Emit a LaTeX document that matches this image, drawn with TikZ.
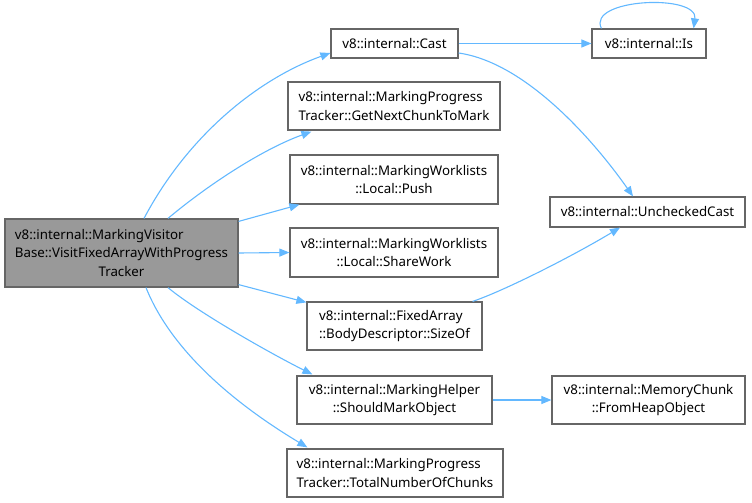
\documentclass[tikz,border=0pt]{standalone}
\usepackage{fontspec}
\setmainfont{Noto Sans}
\usetikzlibrary{arrows.meta,calc}
\definecolor{edgeblue}{RGB}{99,184,255}
\definecolor{boxgray}{RGB}{102,102,102}
\definecolor{maingray}{RGB}{153,153,153}
\begin{document}
\begin{tikzpicture}[x=1pt,y=-1pt,
  box/.style={draw=boxgray,line width=1.2pt,fill=white,inner sep=0pt,
    font=\fontsize{13.3}{18.7}\selectfont,align=center,text=black},
  lbox/.style={box,align=left},
  edge/.style={draw=edgeblue,line width=1.1pt,-{Triangle[length=10pt,width=8pt]}}]
\useasboundingbox (0,0) rectangle (752,503);

\node[box,fill=maingray,minimum width=233pt,minimum height=68pt] (main) at (121.5,253)
  {\rlap{v8::internal::MarkingVisitor}\hphantom{Base::VisitFixedArrayWithProgress}\\Base::VisitFixedArrayWithProgress\\Tracker};
\node[box,minimum width=127pt,minimum height=29pt] (cast) at (394.5,43.5) {v8::internal::Cast};
\node[box,minimum width=114pt,minimum height=29pt] (is) at (649,43.5) {v8::internal::Is};
\node[lbox,minimum width=212pt,minimum height=48pt] (next) at (394,106) {v8::internal::MarkingProgress\\Tracker::GetNextChunkToMark};
\node[box,minimum width=208pt,minimum height=49pt] (push) at (394,179.5) {v8::internal::MarkingWorklists\\::Local::Push};
\node[box,minimum width=208pt,minimum height=49pt] (share) at (394,252.5) {v8::internal::MarkingWorklists\\::Local::ShareWork};
\node[lbox,minimum width=175pt,minimum height=48pt] (sizeof) at (394.5,326) {v8::internal::FixedArray\\::BodyDescriptor::SizeOf};
\node[box,minimum width=195pt,minimum height=30pt] (unchecked) at (647.5,212) {v8::internal::UncheckedCast};
\node[box,minimum width=195pt,minimum height=48pt] (should) at (394.5,400) {v8::internal::MarkingHelper\\::ShouldMarkObject};
\node[box,minimum width=193pt,minimum height=48pt] (fromheap) at (648.5,400) {v8::internal::MemoryChunk\\::FromHeapObject};
\node[lbox,minimum width=216pt,minimum height=48pt] (total) at (395,473) {v8::internal::MarkingProgress\\Tracker::TotalNumberOfChunks};

% edges from main
\draw[edge] ($(main.north)+(22.5,0)$) .. controls +(45,-85) and +(-70,25) .. ($(cast.west)+(0,9.5)$);
\draw[edge] ($(main.north)+(46.5,0)$) .. controls +(38,-32) and +(-50,18) .. ($(next.south west)+(24,1)$);
\draw[edge] ($(main.north east)+(0,3)$) -- ($(push.south west)+(10,0)$);
\draw[edge] (main.east) -- (share.west);
\draw[edge] ($(main.south east)+(0,-3)$) -- ($(sizeof.north west)+(0,1)$);
\draw[edge] ($(main.south)+(46.5,0)$) .. controls +(30,25) and +(-40,-20) .. ($(should.north west)+(16,-1)$);
\draw[edge] ($(main.south)+(24.5,0)$) .. controls +(30,75) and +(-50,-30) .. ($(total.north west)+(21,-1)$);
% other edges
\draw[edge] (cast.east) -- (is.west);
\draw[edge] ($(cast.east)+(0,9.5)$) .. controls +(70,10) and +(-35,-50) .. ($(unchecked.north)+(-14.5,0)$);
\draw[edge] ($(sizeof.north east)+(-10,0)$) .. controls +(30,-10) and +(-50,30) .. ($(unchecked.south)+(-27.5,0)$);
\draw[edge] (should.east) -- (fromheap.west);
\draw[edge] ($(is.north west)+(10,0)$) .. controls +(-15,-30) and +(5,-35) .. ($(is.north east)+(-13,0)$);
\end{tikzpicture}
\end{document}
